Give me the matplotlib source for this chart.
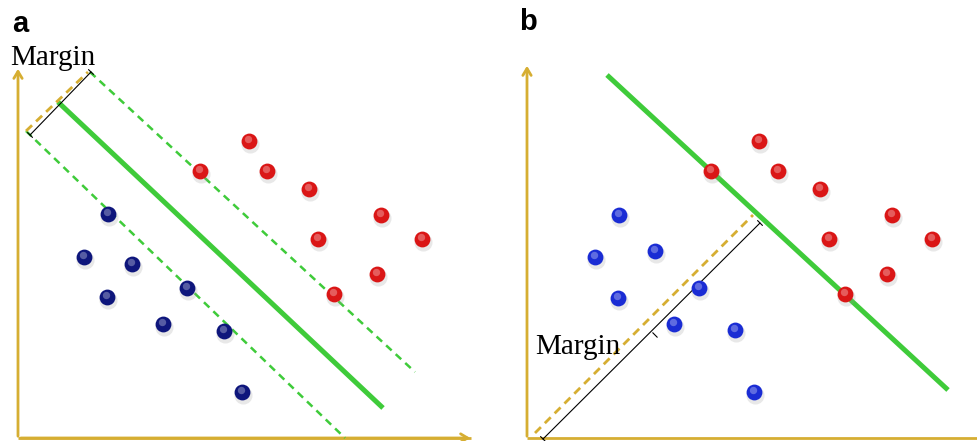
import matplotlib
matplotlib.use("Agg")
import matplotlib.pyplot as plt
import numpy as np

# pixel-space coordinates (x right, y down)
red_a_x = [200, 249, 267, 309, 381, 318, 422, 377, 334]
red_a_y = [171, 141, 171, 189, 215, 239, 239, 274, 294]
blue_a_x = [108, 84, 132, 107, 187, 163, 224, 242]
blue_a_y = [214, 257, 264, 297, 288, 324, 331, 392]

red_b_x = [711, 759, 778, 820, 892, 829, 932, 887, 845]
red_b_y = [171, 141, 171, 189, 215, 239, 239, 274, 294]
blue_b_x = [619, 595, 655, 618, 699, 674, 735, 754]
blue_b_y = [215, 257, 251, 298, 288, 324, 330, 392]

# lines: (x0, y0, x1, y1)
hyper_a = (58, 102, 383, 408)
upper_a = (90, 72, 415, 372)
lower_a = (26, 131, 345, 438)
edge_a = (26, 131, 88, 72)
margin_a = (30, 135, 91, 72)
margin_a_mid = (60, 105)

hyper_b = (607, 75, 948, 390)
edge_b = (535, 433, 753, 215)
margin_b = (543, 439, 760, 223)
margin_b_mid = (655, 335)

GOLD = '#D6AE32'
GREEN = '#3FCB3A'
RED = '#DA1616'
NAVY = '#0E167C'
BLUE = '#1A2CD4'

fig = plt.figure(figsize=(9.78, 4.41), dpi=100)
ax = fig.add_axes([0, 0, 1, 1])
ax.set_xlim(0, 978)
ax.set_ylim(441, 0)
ax.axis('off')


def axes_arrows(x0, x1, ytop, y0=438):
    ax.plot([x0, x1], [y0, y0], color=GOLD, lw=2, solid_capstyle='butt')
    ax.annotate('', xy=(x0, ytop), xytext=(x0, y0 + 1),
                arrowprops=dict(arrowstyle='->,head_length=0.5,head_width=0.3',
                                color=GOLD, lw=2))
    if x1 < 970:
        ax.annotate('', xy=(x1 + 2, y0), xytext=(x0, y0),
                    arrowprops=dict(arrowstyle='->,head_length=0.5,head_width=0.3',
                                    color=GOLD, lw=2))


def seg(s, **kw):
    ax.plot([s[0], s[2]], [s[1], s[3]], **kw)


def margin_bar(s, mid):
    ax.annotate('', xy=(s[2], s[3]), xytext=(s[0], s[1]),
                arrowprops=dict(arrowstyle='|-|,widthA=0.25,widthB=0.25',
                                color='black', lw=0.8, shrinkA=0, shrinkB=0))
    d = np.array([s[2] - s[0], s[3] - s[1]], dtype=float)
    d /= np.hypot(*d)
    p = np.array([d[1], -d[0]])
    ax.plot([mid[0] - 3 * p[0], mid[0] + 3 * p[0]],
            [mid[1] - 3 * p[1], mid[1] + 3 * p[1]],
            color='black', lw=0.8)


def balls(xs, ys, c):
    xs = np.array(xs); ys = np.array(ys)
    ax.scatter(xs + 1, ys + 2.5, s=170, color='#999999', alpha=0.22, lw=0, zorder=4)
    ax.scatter(xs, ys, s=130, color=c, lw=0, zorder=5)
    ax.scatter(xs - 1.5, ys - 2.5, s=28, color='white', alpha=0.3, lw=0, zorder=6)


# panel a
axes_arrows(18, 471, 66)
seg(hyper_a, color=GREEN, lw=3.6, solid_capstyle='butt', zorder=3)
seg(upper_a, color=GREEN, lw=1.8, ls=(0, (3, 2.2)), zorder=3)
seg(lower_a, color=GREEN, lw=1.8, ls=(0, (3, 2.2)), zorder=3)
seg(edge_a, color=GOLD, lw=2, ls=(0, (3, 2)), zorder=3)
margin_bar(margin_a, margin_a_mid)
balls(red_a_x, red_a_y, RED)
balls(blue_a_x, blue_a_y, NAVY)
ax.text(10, 58, 'Margin', fontsize=21, family='Liberation Serif', va='center', ha='left')
ax.text(12, 24, 'a', fontsize=21, family='Liberation Sans', weight='bold', va='center')

# panel b
axes_arrows(527, 978, 63)
seg(hyper_b, color=GREEN, lw=3.6, solid_capstyle='butt', zorder=3)
seg(edge_b, color=GOLD, lw=2, ls=(0, (3, 2)), zorder=3)
margin_bar(margin_b, margin_b_mid)
balls(red_b_x, red_b_y, RED)
balls(blue_b_x, blue_b_y, BLUE)
ax.text(535, 347, 'Margin', fontsize=21, family='Liberation Serif', va='center', ha='left')
ax.text(519, 22, 'b', fontsize=21, family='Liberation Sans', weight='bold', va='center')

fig.savefig('out.png', dpi=100)
